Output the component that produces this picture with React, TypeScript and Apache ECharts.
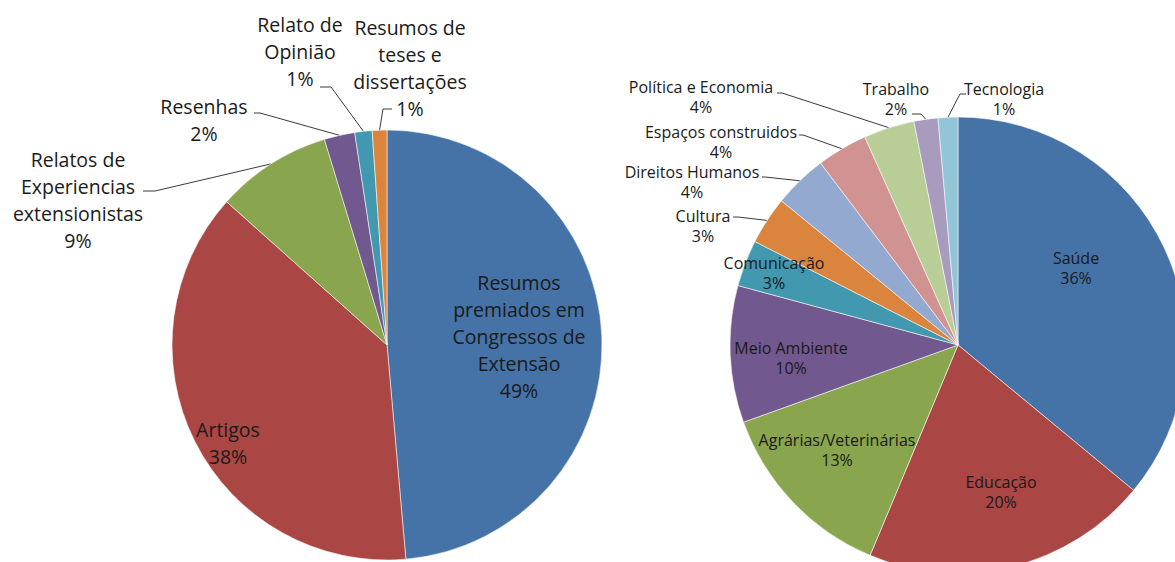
import React, { useEffect, useRef } from "react";
import * as echarts from "echarts";

// ---- Data: left pie (tipo de publicação) ----
const leftCategories = [
  "Resumos\npremiados em\nCongressos de\nExtensão",
  "Artigos",
  "Relatos de\nExperiencias\nextensionistas",
  "Resenhas",
  "Relato de\nOpinião",
  "Resumos de\nteses e\ndissertações",
];
const leftValues = [48.6, 38.0, 8.7, 2.3, 1.3, 1.1];
const leftColors = ["#4572A7", "#AA4643", "#89A54E", "#71588F", "#4198AF", "#DB843D"];

// ---- Data: right pie (área temática) ----
const rightCategories = [
  "Saúde",
  "Educação",
  "Agrárias/Veterinárias",
  "Meio Ambiente",
  "Comunicação",
  "Cultura",
  "Direitos Humanos",
  "Espaços construidos",
  "Política e Economia",
  "Trabalho",
  "Tecnologia",
];
const rightValues = [36.0, 20.3, 13.2, 9.7, 3.3, 3.4, 3.8, 3.6, 3.6, 1.7, 1.4];
const rightColors = [
  "#4572A7", "#AA4643", "#89A54E", "#71588F", "#4198AF", "#DB843D",
  "#93A9CF", "#D19392", "#B9CD96", "#A99BBD", "#92C5D5",
];

// ---- Label placement (layout, not data) ----
type LabelPos = { x: number; y: number; bend?: number[]; end?: number[] };
const leftLabelPos: LabelPos[] = [
  { x: 519, y: 336 },
  { x: 228, y: 443 },
  { x: 78, y: 200, bend: [155, 191], end: [143, 191] },
  { x: 204, y: 120, bend: [260, 113], end: [254, 113] },
  { x: 300, y: 51, bend: [331, 87], end: [320, 87] },
  { x: 410, y: 68, bend: [383, 109], end: [392, 109] },
];
const rightLabelPos: LabelPos[] = [
  { x: 1076, y: 268 },
  { x: 1001, y: 492 },
  { x: 837, y: 450 },
  { x: 791, y: 358 },
  { x: 774, y: 273 },
  { x: 703, y: 226, bend: [738, 217], end: [733, 217] },
  { x: 692, y: 182, bend: [765, 177], end: [762, 177] },
  { x: 721, y: 142, bend: [803, 135], end: [799, 135] },
  { x: 701, y: 97, bend: [782, 93], end: [777, 93] },
  { x: 896, y: 99, bend: [921, 114], end: [912, 114] },
  { x: 1004, y: 99, bend: [960, 94], end: [966, 94] },
];

const FONT = "'Open Sans', Lato, sans-serif";

function makeSeries(
  names: string[],
  values: number[],
  colors: string[],
  pos: LabelPos[],
  center: number[],
  radius: number,
  fontSize: number,
  lineHeight: number
) {
  return {
    type: "pie",
    center,
    radius,
    startAngle: 90,
    clockwise: true,
    avoidLabelOverlap: false,
    silent: true,
    itemStyle: { borderColor: "rgba(255,255,255,0.55)", borderWidth: 1 },
    label: {
      show: true,
      fontFamily: FONT,
      fontSize,
      lineHeight,
      color: "#1a1a1a",
      align: "center",
      formatter: (p: any) => `${p.name}\n${Math.round(p.percent)}%`,
    },
    labelLine: { show: true, lineStyle: { color: "#3a3a3a", width: 1 }, smooth: false },
    labelLayout: (p: any) => {
      const L = pos[p.dataIndex];
      const res: any = { x: L.x, y: L.y, align: "center", verticalAlign: "middle" };
      if (L.bend && p.labelLinePoints && p.labelLinePoints[0]) {
        res.labelLinePoints = [p.labelLinePoints[0], L.bend, L.end];
      }
      return res;
    },
    data: names.map((n, i) => ({
      name: n,
      value: values[i],
      itemStyle: { color: colors[i] },
      label: { position: pos[i].bend ? "outside" : "inside" },
      labelLine: { show: !!pos[i].bend },
    })),
  };
}

export default function App() {
  const ref = useRef<HTMLDivElement>(null);
  useEffect(() => {
    document.body.style.margin = "0";
    const chart = echarts.init(ref.current!, undefined, { renderer: "svg" });
    chart.setOption({
      animation: false,
      backgroundColor: "#ffffff",
      series: [
        makeSeries(leftCategories, leftValues, leftColors, leftLabelPos, [387, 345], 215, 19.5, 27),
        makeSeries(rightCategories, rightValues, rightColors, rightLabelPos, [958, 345], 228, 16, 20),
      ],
    });
    return () => chart.dispose();
  }, []);
  return (
    <div
      ref={ref}
      style={{ position: "absolute", left: 0, top: 0, width: 1175, height: 562 }}
    />
  );
}
